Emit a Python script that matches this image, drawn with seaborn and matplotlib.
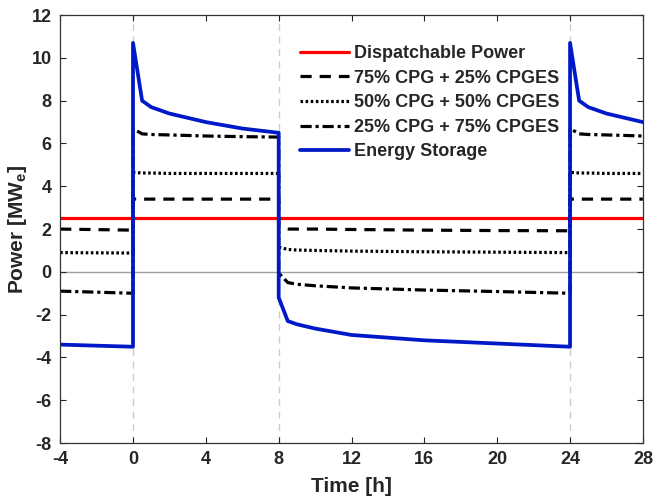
import numpy as np
import pandas as pd
import matplotlib
matplotlib.use("Agg")
import matplotlib.pyplot as plt
import seaborn as sns

# Time axis shared by all series (hours); repeated values mark the switching jumps
time_h = [-4, 0, 0, 0.5, 1, 2, 4, 6, 8, 8, 8.5, 9, 10, 12, 16, 20, 24, 24, 24.5, 25, 26, 28]

dispatchable = [2.5] * len(time_h)
cpg75 = [2.0, 1.95, 3.4, 3.4, 3.4, 3.4, 3.4, 3.4, 3.4, 2.05, 2.0, 2.0, 2.0, 1.98, 1.95, 1.93, 1.92,
         3.4, 3.4, 3.4, 3.4, 3.4]
cpg50 = [0.9, 0.88, 4.65, 4.62, 4.62, 4.6, 4.6, 4.6, 4.6, 1.15, 1.05, 1.02, 1.0, 0.97, 0.94, 0.92, 0.9,
         4.65, 4.62, 4.62, 4.6, 4.6]
cpg25 = [-0.9, -1.0, 6.7, 6.45, 6.42, 6.4, 6.35, 6.32, 6.3, -0.05, -0.5, -0.58, -0.65, -0.75, -0.85,
         -0.92, -1.0, 6.7, 6.45, 6.42, 6.4, 6.35]
storage = [-3.4, -3.5, 10.7, 8.0, 7.7, 7.4, 7.0, 6.7, 6.5, -1.2, -2.3, -2.45, -2.65, -2.95, -3.2,
           -3.35, -3.5, 10.7, 8.0, 7.7, 7.4, 7.0]

labels = ["Dispatchable Power", "75% CPG + 25% CPGES", "50% CPG + 50% CPGES",
          "25% CPG + 75% CPGES", "Energy Storage"]
x_ticks = [-4, 0, 4, 8, 12, 16, 20, 24, 28]
y_ticks = [-8, -6, -4, -2, 0, 2, 4, 6, 8, 10, 12]
switch_times = [0, 8, 24]

sns.set_style("ticks")
plt.rcParams["font.family"] = ["Liberation Sans", "DejaVu Sans"]
plt.rcParams["font.weight"] = "bold"
plt.rcParams["axes.unicode_minus"] = False
plt.rcParams["mathtext.fontset"] = "custom"
plt.rcParams["mathtext.bf"] = "Liberation Sans:bold"
plt.rcParams["mathtext.rm"] = "Liberation Sans:bold"

fig, ax = plt.subplots(figsize=(6.54, 5.04), dpi=100)
fig.subplots_adjust(left=0.092, right=0.983, top=0.970, bottom=0.121)

# reference lines
for t in switch_times:
    ax.axvline(t, color="#cccccc", lw=1, ls=(0, (5, 4)), zorder=0)
ax.axhline(0, color="#a0a0a0", lw=1, zorder=0)

series = [dispatchable, cpg75, cpg50, cpg25, storage]
colors = ["#ff0000", "black", "black", "black", "#0019c8"]
styles = ["-", (0, (3.5, 2.5)), (0, (0.8, 0.8)), (0, (3.5, 1.2, 1, 1.2)), "-"]
widths = [2.3, 2.3, 2.3, 2.3, 2.7]

for vals, lab, c, s, w in zip(series, labels, colors, styles, widths):
    df = pd.DataFrame({"Time": time_h, "Power": vals})
    sns.lineplot(data=df, x="Time", y="Power", ax=ax, estimator=None, sort=False,
                 color=c, linestyle=s, lw=w, label=lab)

ax.set_xlim(-4, 28)
ax.set_ylim(-8, 12)
ax.set_xticks(x_ticks)
ax.set_yticks(y_ticks)
ax.tick_params(direction="in", top=True, right=True, labelsize=13, length=4, width=0.8, pad=6)
for lbl in ax.get_xticklabels() + ax.get_yticklabels():
    lbl.set_fontweight("bold")
for sp in ax.spines.values():
    sp.set_linewidth(0.9)
    sp.set_color("#333333")

ax.set_xlabel("Time [h]", fontsize=15, fontweight="bold", labelpad=6)
ax.set_ylabel(r"Power [MW$_\mathbf{e}$]", fontsize=15, fontweight="bold", labelpad=2)

leg = ax.legend(loc="upper left", bbox_to_anchor=(0.412, 0.93), frameon=False,
                fontsize=13, handlelength=2.7, handletextpad=0.3, labelspacing=0.42,
                borderpad=0, borderaxespad=0)
for txt in leg.get_texts():
    txt.set_fontweight("bold")

fig.savefig("out.png", dpi=100)
